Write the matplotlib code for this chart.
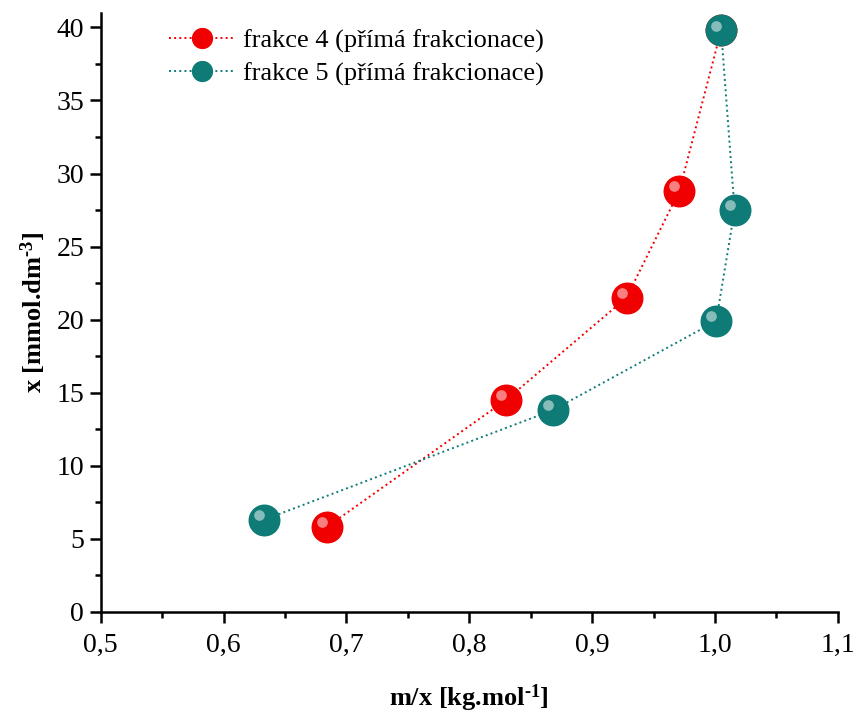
import numpy as np
import matplotlib.pyplot as plt
import matplotlib.transforms as mtransforms
from matplotlib.ticker import MultipleLocator, FuncFormatter

plt.rcParams['font.family'] = ['Liberation Serif', 'DejaVu Serif']
plt.rcParams['mathtext.fontset'] = 'custom'
plt.rcParams['mathtext.rm'] = 'Liberation Serif:bold'
plt.rcParams['mathtext.bf'] = 'Liberation Serif:bold'
plt.rcParams['mathtext.it'] = 'Liberation Serif:bold'

# frakce 4 (red), last point hidden under the teal one
f4_x = [0.684, 0.830, 0.928, 0.971, 1.005]
f4_y = [5.8, 14.5, 21.5, 28.8, 39.8]
# frakce 5 (teal)
f5_x = [0.633, 0.868, 1.001, 1.016, 1.005]
f5_y = [6.3, 13.8, 19.9, 27.5, 39.8]

labels = ['frakce 4 (přímá frakcionace)', 'frakce 5 (přímá frakcionace)']
red = '#f00000'
teal = '#0e7b76'

fig = plt.figure(figsize=(8.54, 7.13), dpi=100)
ax = fig.add_axes([0.118, 0.142, 0.863, 0.840])

def sphere(x, y, col, lab, ms=22):
    ax.plot(x, y, ':', color=col, lw=1.4, marker='o', ms=ms,
            markerfacecolor=col, markeredgecolor=col, label=lab)
    # little highlight to fake the shaded ball
    off = mtransforms.offset_copy(ax.transData, fig=fig, x=-3.5, y=3.5, units='points')
    ax.plot(x, y, 'o', ms=ms*0.35, color='white', alpha=0.5, transform=off, mec='none')

sphere(f4_x, f4_y, red, labels[0])
sphere(f5_x, f5_y, teal, labels[1])

ax.set_xlim(0.5, 1.1)
ax.set_ylim(0, 41)
ax.xaxis.set_major_locator(MultipleLocator(0.1))
ax.xaxis.set_minor_locator(MultipleLocator(0.05))
ax.yaxis.set_major_locator(MultipleLocator(5))
ax.yaxis.set_minor_locator(MultipleLocator(2.5))
ax.xaxis.set_major_formatter(FuncFormatter(lambda v, p: f'{v:.1f}'.replace('.', ',')))

for s in ['top', 'right']:
    ax.spines[s].set_visible(False)
for s in ['left', 'bottom']:
    ax.spines[s].set_linewidth(1.8)
ax.tick_params(which='major', direction='out', length=8, width=1.8, labelsize=20, pad=4)
ax.tick_params(axis='x', which='major', pad=7)
ax.tick_params(which='minor', direction='out', length=4, width=1.8)

ax.set_xlabel('m/x [kg.mol$^{\\text{-1}}$]', fontsize=19, fontweight='bold', labelpad=18)
ax.set_ylabel('x [mmol.dm$^{\\text{-3}}$]', fontsize=19, fontweight='bold', labelpad=6)

leg = ax.legend(loc='upper left', bbox_to_anchor=(0.061, 1.013), frameon=False,
                fontsize=19, markerscale=0.65, handlelength=2.5, labelspacing=0.35,
                handletextpad=0.3)

fig.savefig('out.png', dpi=100)
